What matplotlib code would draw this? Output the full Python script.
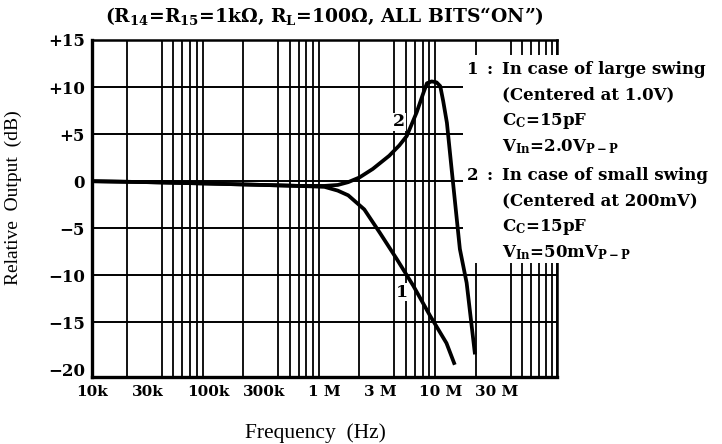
import numpy as np
import matplotlib
matplotlib.use('Agg')
import matplotlib.pyplot as plt
from matplotlib.ticker import FixedLocator, LogLocator, NullFormatter
from matplotlib.patches import Rectangle

# datos
freq_1 = [1e4, 3e4, 1e5, 3e5, 6e5, 1.0e6, 1.3e6, 1.6e6, 2.2e6, 3.0e6,
          4.2e6, 5.8e6, 8.1e6, 11.2e6, 13.2e6]
db_1 = [0.0, -0.1, -0.25, -0.4, -0.5, -0.6, -1.0, -1.5, -3.0, -5.5,
        -8.3, -11.1, -14.3, -17.2, -19.5]

freq_2 = [1e4, 3e4, 1e5, 3e5, 6e5, 1.0e6, 1.3e6, 1.6e6, 2.0e6, 2.6e6,
          3.6e6, 4.4e6, 5.1e6, 6.2e6, 7.1e6, 7.6e6, 8.35e6, 9.2e6, 9.9e6,
          10.5e6, 11.3e6, 12.4e6, 14.6e6, 16.7e6, 19.7e6]
db_2 = [0.0, -0.1, -0.25, -0.4, -0.5, -0.5, -0.4, -0.1, 0.4, 1.3,
        2.7, 3.8, 4.8, 7.3, 9.4, 10.4, 10.6, 10.5, 10.1,
        8.5, 6.2, 1.3, -7.2, -10.8, -18.4]

y_ticks = [15, 10, 5, 0, -5, -10, -15, -20]
y_labels = ['+15', '+10', '+5', '0', '\u22125', '\u221210', '\u221215', '\u221220']
x_ticks = [1e4, 3e4, 1e5, 3e5, 1e6, 3e6, 1e7, 3e7]
x_labels = ['10k', '30k', '100k', '300k', '1 M', '3 M', '10 M', '30 M']

title = '(R$_{14}$=R$_{15}$=1k\u03a9, R$_{\\rm L}$=100\u03a9, ALL BITS\u201cON\u201d)'
leyenda_1 = ['In case of large swing', '(Centered at 1.0V)',
             'C$_{\\rm C}$=15pF', 'V$_{\\rm In}$=2.0V$_{\\rm P-P}$']
leyenda_2 = ['In case of small swing', '(Centered at 200mV)',
             'C$_{\\rm C}$=15pF', 'V$_{\\rm In}$=50mV$_{\\rm P-P}$']

plt.rcParams['font.family'] = ['Liberation Serif', 'DejaVu Serif']
plt.rcParams['mathtext.fontset'] = 'custom'
plt.rcParams['mathtext.rm'] = 'DejaVu Serif:bold'
plt.rcParams['mathtext.it'] = 'DejaVu Serif:bold'
plt.rcParams['mathtext.bf'] = 'DejaVu Serif:bold'
negrita = ['DejaVu Serif']

W, H = 722, 444
fig = plt.figure(figsize=(W / 100, H / 100), dpi=100)
ax = fig.add_axes([92 / W, 1 - 377 / H, 465 / W, 337 / H])

ax.set_xscale('log')
ax.set_xlim(1e4, 1e8)
ax.set_ylim(-20.8, 15)

ax.xaxis.set_major_locator(FixedLocator(x_ticks))
ax.set_xticklabels(x_labels, fontsize=11, fontweight='bold', family=negrita)
ax.xaxis.set_minor_locator(LogLocator(base=10, subs=np.arange(1, 10)))
ax.xaxis.set_minor_formatter(NullFormatter())
ax.set_yticks(y_ticks)
ax.set_yticklabels(y_labels, fontsize=12, fontweight='bold', family=negrita)
ax.tick_params(which='both', length=0)
ax.tick_params(axis='x', pad=6)
ax.tick_params(axis='y', pad=5)

ax.grid(which='minor', axis='x', color='black', lw=1.3)
ax.grid(which='major', axis='y', color='black', lw=1.4)
ax.yaxis.get_gridlines()[-1].set_visible(False)
for s in ax.spines.values():
    s.set_linewidth(1.8)
ax.spines['left'].set_linewidth(2.4)
ax.spines['bottom'].set_linewidth(2.4)

# caja blanca detras de la leyenda
ax.add_patch(Rectangle((0.798, 0.338), 0.6, 0.617, transform=ax.transAxes,
                       facecolor='white', edgecolor='none', zorder=2.6, clip_on=False))

ax.plot(freq_1, db_1, color='black', lw=2.7, zorder=3, solid_capstyle='butt')
ax.plot(freq_2, db_2, color='black', lw=2.7, zorder=3, solid_capstyle='butt')

ax.text(4.4e6, 6.3, '2', fontsize=12.5, fontweight='bold', ha='center', va='center',
        family=negrita, zorder=4, bbox=dict(facecolor='white', edgecolor='none', pad=0.5))
ax.text(4.6e6, -11.8, '1', fontsize=12.5, fontweight='bold', ha='center', va='center',
        family=negrita, zorder=4, bbox=dict(facecolor='white', edgecolor='none', pad=0.5))

ax.set_ylabel('Relative  Output  (dB)', fontsize=14)
ax.yaxis.set_label_coords((22 - 92) / 465, (377 - 198) / 337)
ax.set_xlabel('Frequency  (Hz)', fontsize=15.5)
ax.xaxis.set_label_coords((315 - 92) / 465, (377 - 423) / 337)

fig.text(324 / W, 1 - 16 / H, title, fontsize=13.5, fontweight='bold',
         family=negrita, ha='center', va='center')

# leyenda a la derecha
def bloque(num, lineas, y0):
    fig.text(467 / W, 1 - y0 / H, num, fontsize=12, fontweight='bold',
             family=negrita, va='center')
    fig.text(486 / W, 1 - y0 / H, ':', fontsize=12, fontweight='bold',
             family=negrita, va='center')
    for i, txt in enumerate(lineas):
        fig.text(502 / W, 1 - (y0 + 26 * i) / H, txt, fontsize=12,
                 fontweight='bold', family=negrita, va='center')

bloque('1', leyenda_1, 69)
bloque('2', leyenda_2, 175)

fig.savefig('out.png', dpi=100)
